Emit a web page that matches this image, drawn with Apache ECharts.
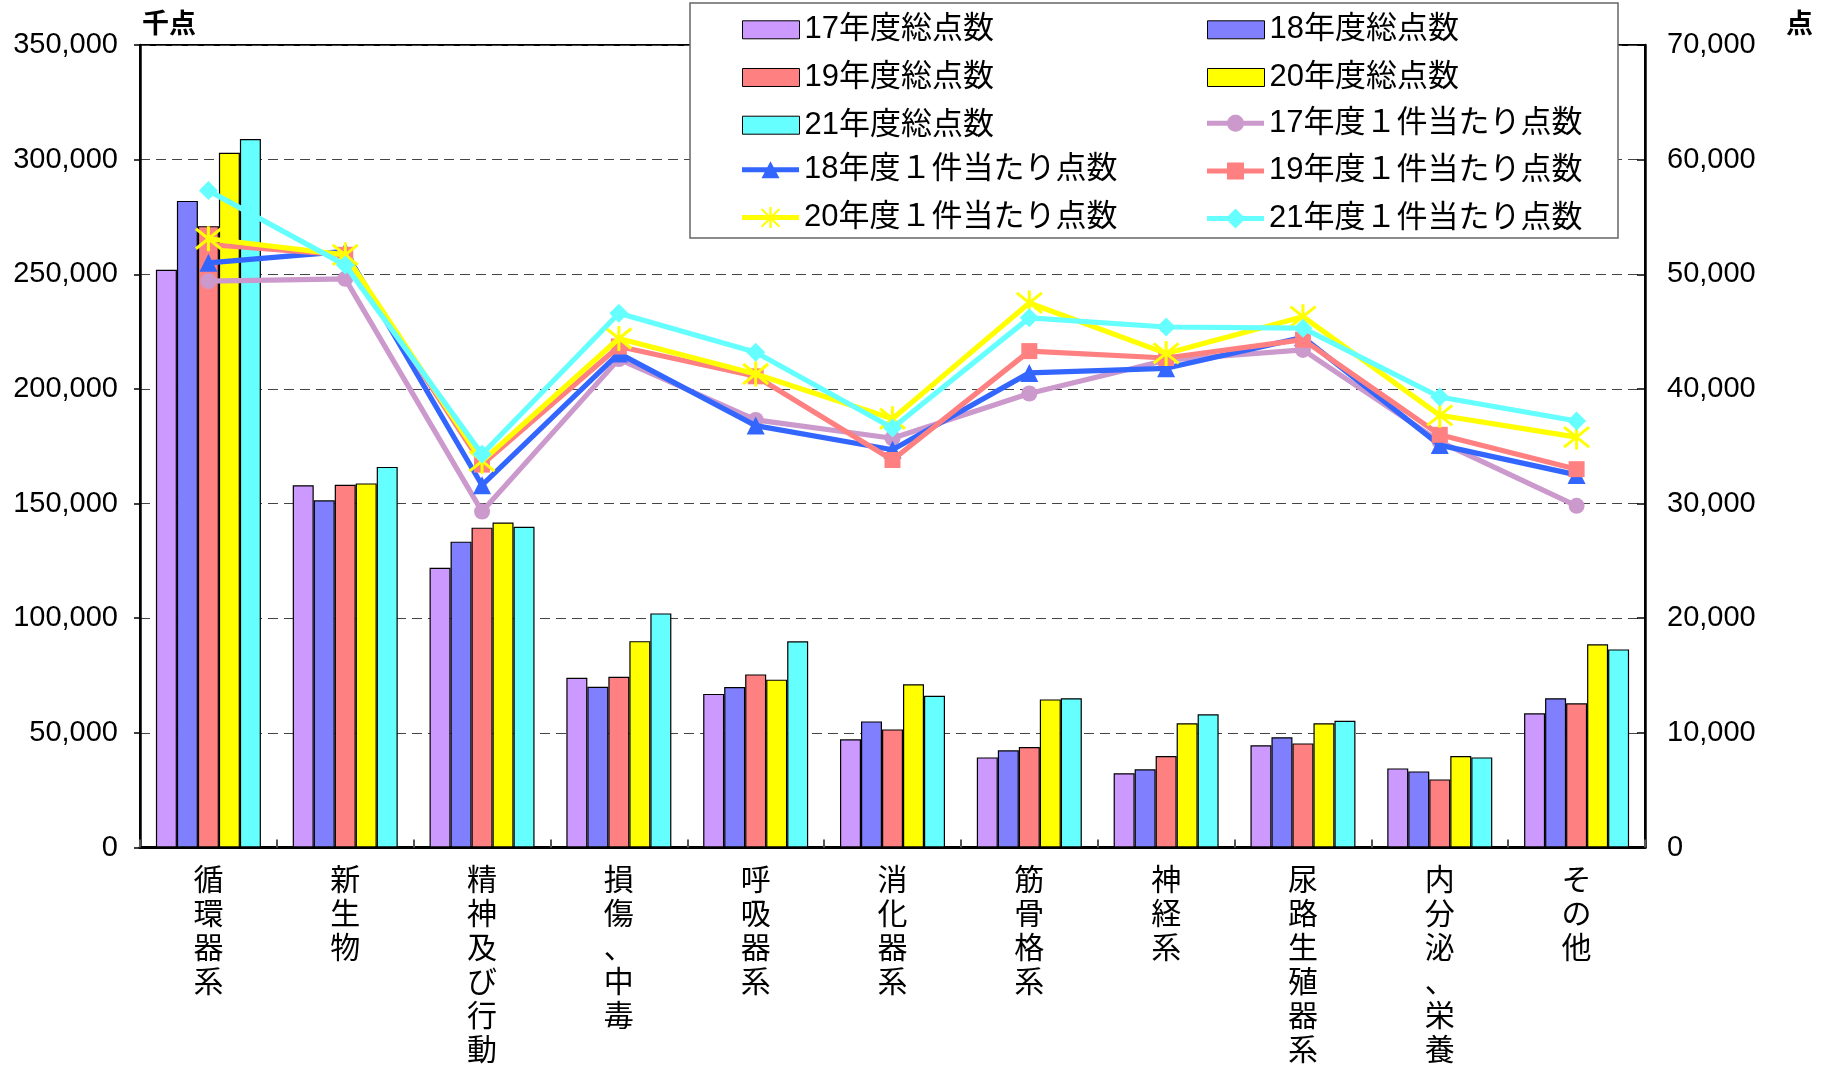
<!DOCTYPE html>
<html>
<head>
<meta charset="utf-8">
<script src="https://cdn.jsdelivr.net/npm/echarts@6/dist/echarts.min.js"></script>
<style>
html,body{margin:0;padding:0;background:#fff;}
#chart{width:1832px;height:1076px;}
</style>
</head>
<body>
<div id="chart"></div>
<script>
const categories = ['循環器系','新生物','精神及び行動','損傷、中毒','呼吸器系','消化器系','筋骨格系','神経系','尿路生殖器系','内分泌、栄養','その他'];

const leftTicks = [0, 50000, 100000, 150000, 200000, 250000, 300000, 350000];
const rightTicks = [0, 10000, 20000, 30000, 40000, 50000, 60000, 70000];

const total17 = [252000, 158000, 122000, 74000, 67000, 47200, 39300, 32400, 44600, 34500, 58500];
const total18 = [282000, 151400, 133400, 70100, 70000, 55000, 42400, 34100, 48100, 33200, 65100];
const total19 = [271000, 158200, 139500, 74500, 75500, 51500, 43800, 39900, 45400, 29700, 62900];
const total20 = [303000, 158800, 141700, 90000, 73200, 71200, 64600, 54200, 54200, 39900, 88600];
const total21 = [309000, 166000, 139900, 102100, 89900, 66200, 65100, 58100, 55300, 39300, 86400];

const per17 = [49400, 49600, 29300, 42600, 37300, 35700, 39600, 42500, 43400, 35400, 29800];
const per18 = [51000, 52000, 31600, 43100, 36800, 34700, 41400, 41800, 44500, 35100, 32500];
const per19 = [52600, 51700, 33400, 43700, 41100, 33800, 43300, 42700, 44300, 36000, 33000];
const per20 = [53100, 51700, 33700, 44400, 41300, 37400, 47500, 43100, 46300, 37700, 35800];
const per21 = [57300, 50800, 34300, 46600, 43200, 36600, 46200, 45400, 45300, 39300, 37200];

const barNames = ['17年度総点数','18年度総点数','19年度総点数','20年度総点数','21年度総点数'];
const lineNames = ['17年度１件当たり点数','18年度１件当たり点数','19年度１件当たり点数','20年度１件当たり点数','21年度１件当たり点数'];
const barColors = ['#CC99FF','#8080FF','#FF8080','#FFFF00','#66FFFF'];
const lineColors = ['#CC99CC','#3366FF','#FF8080','#FFFF00','#66FFFF'];

const FONT = "'Liberation Sans', 'Noto Sans CJK JP', sans-serif";
const ASTER = 'path://M2,2L18,18M18,2L2,18M10,0L10,20';

// Legend icon paths (57 x 21 box): thick line with marker in the middle
const BOX = 'M0,0L0,0M57,21L57,21';
const FULL_LINE = 'M0,8L57,8L57,13L0,13Z';
function circlePath(cx, cy, r, n) {
  let s = '';
  for (let k = 0; k < n; k++) {
    const t = 2 * Math.PI * k / n;
    s += (k === 0 ? 'M' : 'L') + (cx + r * Math.cos(t)).toFixed(2) + ',' + (cy + r * Math.sin(t)).toFixed(2);
  }
  return s + 'Z';
}
const legendIcons = [
  'path://' + BOX + 'M0,8L20.3,8L20.3,13L0,13ZM36.7,8L57,8L57,13L36.7,13Z' + circlePath(28.5, 10.5, 8.5, 32),
  'path://' + BOX + FULL_LINE + 'M28.5,2L37.5,19L19.5,19Z',
  'path://' + BOX + FULL_LINE + 'M20,2L37,2L37,19L20,19Z',
  'path://' + BOX + FULL_LINE + 'M27.4,0L29.6,0L29.6,21L27.4,21Z' +
    'M20.3,1.3L38.1,19.1L36.7,20.5L18.9,2.7Z' + 'M36.7,1.3L38.1,2.7L20.3,20.5L18.9,19.1Z',
  'path://' + BOX + FULL_LINE + 'M28.5,0.5L38.5,10.5L28.5,20.5L18.5,10.5Z'
];

const chart = echarts.init(document.getElementById('chart'), null, {renderer: 'canvas'});

const fmt = v => v.toLocaleString('en-US');

const barData = [total17, total18, total19, total20, total21];
const lineData = [per17, per18, per19, per20, per21];
const lineSymbols = ['circle', 'triangle', 'rect', ASTER, 'diamond'];
const lineSymbolSizes = [16, 18, 16, 25, 19];

const series = [];
barData.forEach((d, i) => {
  series.push({
    name: barNames[i], type: 'bar', yAxisIndex: 0, data: d,
    barWidth: 21, barGap: '0%',
    itemStyle: {color: barColors[i], borderColor: '#000', borderWidth: 1.2},
    z: 2
  });
});
lineData.forEach((d, i) => {
  const isAst = i === 3;
  series.push({
    name: lineNames[i], type: 'line', yAxisIndex: 1, data: d,
    symbol: lineSymbols[i], symbolSize: lineSymbolSizes[i], showAllSymbol: true,
    lineStyle: {color: lineColors[i], width: 5.2},
    itemStyle: isAst ? {color: lineColors[i], borderColor: lineColors[i], borderWidth: 3}
                     : {color: lineColors[i], borderWidth: 0},
    emphasis: {disabled: true},
    z: 3 + i
  });
});

const legendText = {fontSize: 31, color: '#000', fontFamily: FONT, lineHeight: 30};
const barItem = name => ({name: name, icon: 'rect', itemStyle: {borderColor: '#000', borderWidth: 1}});
const lineItem = name => {
  const i = lineNames.indexOf(name);
  return {name: name, icon: legendIcons[i], itemStyle: {color: lineColors[i], borderWidth: 0}};
};
const barLegend = (left, top, names) => ({
  orient: 'vertical', left: left, top: top, padding: 0, itemGap: 16.7,
  itemWidth: 57, itemHeight: 18, z: 20, selectedMode: false,
  textStyle: legendText, data: names.map(barItem)
});
const lineLegend = (left, top, names) => ({
  orient: 'vertical', left: left, top: top, padding: 0, itemGap: 16.7,
  itemWidth: 57, itemHeight: 21, z: 20, selectedMode: false, symbolKeepAspect: false,
  textStyle: legendText, data: names.map(lineItem)
});

const option = {
  backgroundColor: '#fff',
  animation: false,
  textStyle: {fontFamily: FONT},
  grid: {left: 140, right: 187, top: 45, bottom: 228.5, show: true, borderColor: '#000', borderWidth: 2, containLabel: false},
  legend: [
    barLegend(742, 14.3, [barNames[0], barNames[2], barNames[4]]),
    lineLegend(742, 154.3, [lineNames[1], lineNames[3]]),
    barLegend(1207, 14.3, [barNames[1], barNames[3]]),
    lineLegend(1207, 107.7, [lineNames[0], lineNames[2], lineNames[4]])
  ],
  graphic: [
    {type: 'rect', z: 15, shape: {x: 690, y: 3, width: 928, height: 235},
     style: {fill: '#fff', stroke: '#666', lineWidth: 1.5}},
    {type: 'text', z: 15, left: 142, top: 12,
     style: {text: '千点', fill: '#000', font: 'bold 27px ' + FONT}},
    {type: 'text', z: 15, left: 1786, top: 12,
     style: {text: '点', fill: '#000', font: 'bold 27px ' + FONT}}
  ],
  xAxis: {
    type: 'category', data: categories,
    axisLine: {lineStyle: {color: '#000', width: 3}},
    axisTick: {show: true, inside: true, length: 8, lineStyle: {color: '#555', width: 2}},
    axisLabel: {
      interval: 0, margin: 17, fontSize: 30, lineHeight: 34, color: '#000', fontFamily: FONT,
      formatter: v => v.split('').join('\n')
    },
    splitLine: {show: false}
  },
  yAxis: [
    {
      type: 'value', min: leftTicks[0], max: leftTicks[leftTicks.length - 1], interval: leftTicks[1] - leftTicks[0],
      position: 'left',
      axisLine: {show: true, lineStyle: {color: '#000', width: 2.5}},
      axisTick: {show: true, length: 6, lineStyle: {color: '#000', width: 1.5}},
      axisLabel: {margin: 22, fontSize: 29, color: '#000', fontFamily: FONT, formatter: fmt},
      splitLine: {show: true, lineStyle: {color: '#444', width: 1.2, type: [10, 6]}}
    },
    {
      type: 'value', min: rightTicks[0], max: rightTicks[rightTicks.length - 1], interval: rightTicks[1] - rightTicks[0],
      position: 'right',
      axisLine: {show: true, lineStyle: {color: '#000', width: 2.5}},
      axisTick: {show: true, inside: true, length: 8, lineStyle: {color: '#000', width: 1.5}},
      axisLabel: {margin: 22, fontSize: 29, color: '#000', fontFamily: FONT, formatter: fmt},
      splitLine: {show: false}
    }
  ],
  series: series
};

chart.setOption(option);
</script>
</body>
</html>
